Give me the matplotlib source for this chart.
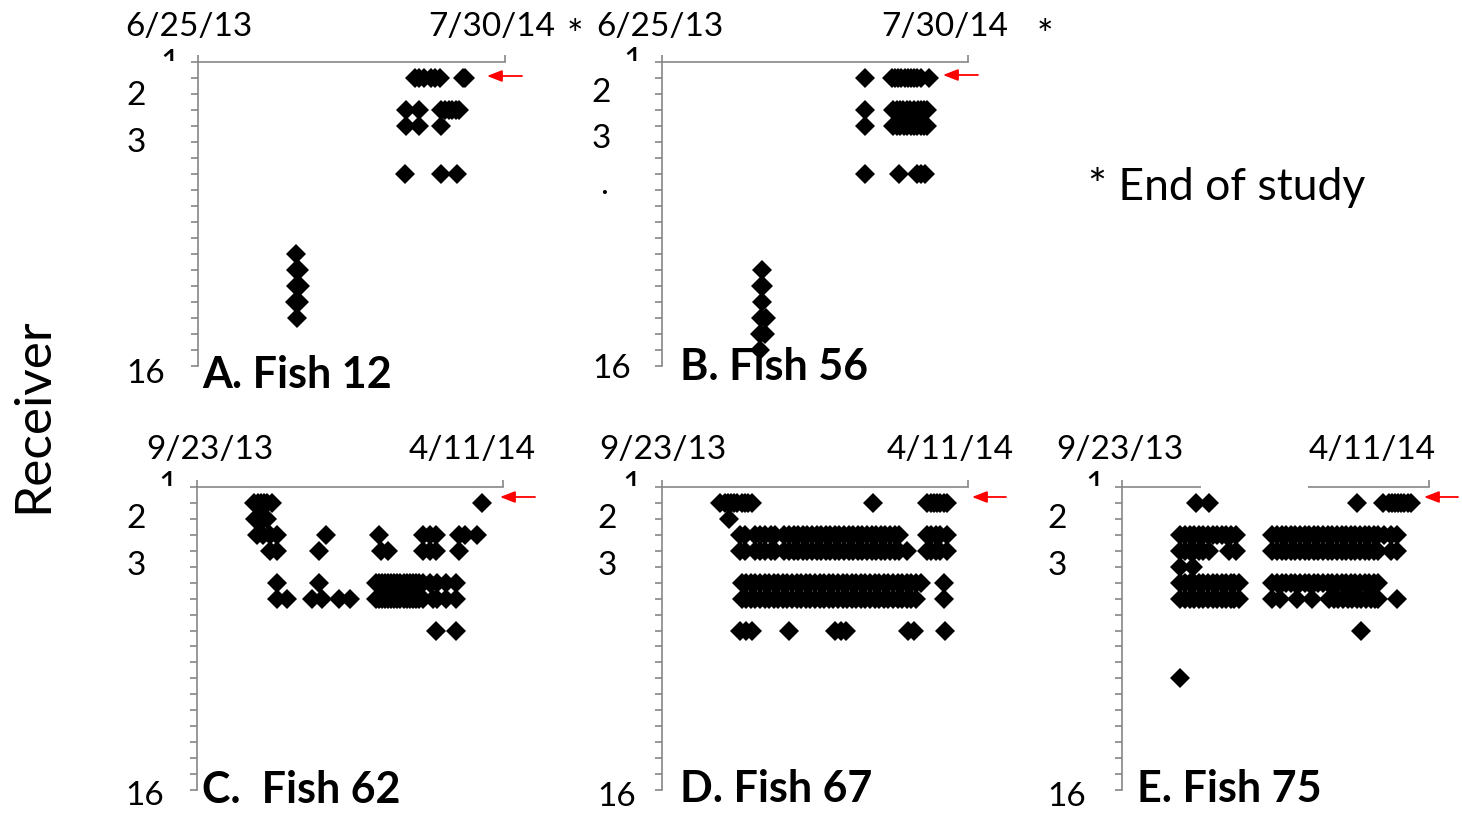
import matplotlib
matplotlib.use("Agg")
import matplotlib.pyplot as plt
from matplotlib.transforms import Bbox
from matplotlib.patches import Rectangle

W, H = 1462, 813
FONT = "Lato"
plt.rcParams['font.family'] = [FONT, 'DejaVu Sans']

# ---------------- data (days since panel start date, receiver row) ----------------
fish12_rows = [1, 3, 4, 7, 12, 13, 14, 15, 16]
fish12_days = [[283, 288, 294, 304, 309, 315, 345, 348],
               [271, 288, 317, 322, 327, 331, 336, 340],
               [271, 288, 317],
               [270, 317, 337],
               [128], [128, 132], [128, 133], [126, 132], [129]]

fish56_rows = [1, 3, 4, 7, 13, 14, 15, 16, 17, 18]
fish56_days = [[265, 301, 305, 309, 313, 317, 321, 325, 329, 333, 338, 349],
               [265, 302, 307, 311, 315, 320, 324, 329, 334, 339, 342, 346],
               [265, 302, 307, 311, 316, 320, 325, 329, 333, 339, 342, 346],
               [265, 310, 333, 338, 344],
               [131], [129, 132], [131], [129, 136], [128, 135], [128]]

fish62_rows = [1, 2, 3, 4, 6, 7, 9]
fish62_days = [[37, 40, 42, 44, 46, 49, 186],
               [38, 41, 43, 46],
               [39, 43, 48, 52, 84, 119, 148, 152, 156, 171, 175, 183],
               [48, 52, 80, 120, 125, 148, 152, 156, 171],
               [52, 80, 117, 119, 121, 123, 125, 127, 129, 131, 133, 135, 137, 139, 141,
                143, 145, 148, 152, 157, 163, 169],
               [52, 59, 75, 82, 93, 100, 117, 119, 121, 123, 125, 127, 129, 131, 133,
                135, 137, 139, 141, 143, 145, 148, 154, 157, 163, 169],
               [156, 169]]

fish67_rows = [1, 2, 3, 4, 6, 7, 9]
fish67_days = [[38, 41, 43, 45, 47, 49, 52, 54, 56, 59, 138, 173, 176, 178, 180, 182,
                184, 186],
               [44],
               [51, 54, 61, 64, 67, 71, 74, 80, 83, 86, 89, 92, 95, 98, 101, 104, 107,
                110, 113, 116, 119, 122, 125, 128, 131, 134, 137, 140, 143, 146, 149,
                152, 155, 173, 176, 179, 182, 186],
               [51, 54, 61, 64, 67, 71, 74, 80, 83, 86, 89, 92, 95, 98, 101, 104, 107,
                110, 113, 116, 119, 122, 125, 128, 131, 134, 137, 140, 143, 146, 149,
                152, 155, 160, 173, 176, 179, 182, 186],
               [52, 55, 58, 61, 64, 67, 70, 73, 76, 79, 82, 85, 88, 91, 94, 97, 100,
                103, 106, 109, 112, 115, 118, 121, 124, 127, 130, 133, 136, 139, 142,
                145, 148, 151, 154, 157, 160, 163, 166, 169, 184],
               [52, 55, 58, 61, 64, 67, 70, 73, 76, 79, 82, 85, 88, 91, 94, 97, 100,
                103, 106, 109, 112, 115, 118, 121, 124, 127, 130, 133, 136, 139, 142,
                145, 148, 151, 154, 157, 160, 163, 166, 184],
               [51, 55, 59, 83, 113, 117, 120, 161, 165, 185]]

fish75_rows = [1, 3, 4, 5, 6, 7, 9, 12]
fish75_days = [[48, 57, 153, 170, 174, 176, 178, 180, 182, 184, 186, 188],
               [38, 41, 44, 47, 50, 53, 56, 59, 62, 65, 68, 71, 74,
                98, 101, 104, 107, 110, 113, 116, 119, 122, 125, 128, 131, 134, 137,
                140, 143, 146, 149, 152, 155, 158, 161, 164, 167, 171, 175, 179],
               [38, 41, 44, 47, 50, 53, 57, 70, 74,
                98, 101, 104, 107, 110, 113, 116, 119, 122, 125, 128, 131, 134, 137,
                140, 143, 146, 149, 152, 155, 158, 161, 164, 167, 175, 179],
               [38, 46],
               [38, 41, 44, 47, 50, 53, 56, 59, 62, 65, 68, 71, 73, 76,
                98, 101, 104, 107, 110, 113, 116, 119, 122, 125, 128, 131, 134, 137,
                140, 143, 146, 149, 152, 155, 158, 161, 164, 167],
               [38, 41, 44, 47, 50, 53, 56, 59, 62, 65, 68, 71, 73, 76,
                98, 103, 114, 124, 135, 138, 141, 144, 147, 150, 153, 156, 159, 162,
                165, 167, 179],
               [156],
               [38]]

panel_titles = ["A. Fish 12", "B. Fish 56", "C.  Fish 62", "D. Fish 67", "E. Fish 75"]
start_labels = ["6/25/13", "6/25/13", "9/23/13", "9/23/13", "9/23/13"]
end_labels = ["7/30/14", "7/30/14", "4/11/14", "4/11/14", "4/11/14"]
span_days = [400, 400, 200, 200, 200]
receiver_labels = ["2", "3", "16"]
y_max = 19

panels_rows = [fish12_rows, fish56_rows, fish62_rows, fish67_rows, fish75_rows]
panels_days = [fish12_days, fish56_days, fish62_days, fish67_days, fish75_days]

# ---------------- layout (pixels) ----------------
axes_px = [(198, 62, 505, 366), (662, 62, 968, 366),
           (197, 487, 503, 790), (662, 487, 968, 790), (1122, 487, 1429, 790)]
start_lab_px = [(189, 36), (660, 36), (210, 459), (663, 459), (1120, 459)]
end_lab_px = [(492, 36), (945, 36), (472, 459), (950, 459), (1372, 459)]
title_px = [(202, 388), (680, 380), (202, 803), (680, 802), (1137, 802)]
ylab_px = [[(136, 105), (136, 152), (146, 383)],
           [(601, 102), (601, 148), (612, 378)],
           [(136, 528), (136, 575), (145, 805)],
           [(607, 528), (607, 575), (617, 806)],
           [(1057, 528), (1057, 575), (1067, 806)]]
one_px = [(170, 73), (633, 71), (168, 495), (632, 495), (1095, 495)]
arrow_px = [(487, 522, 76), (943, 978, 75), (500, 535, 497), (972, 1006, 497),
            (1424, 1458, 497)]

GRAY = "#868686"
LAB = 24


def fx(x):
    return x / W


def fy(y):
    return 1 - y / H


fig = plt.figure(figsize=(W / 100, H / 100), dpi=100)

for i in range(5):
    l, t, r, b = axes_px[i]
    ax = fig.add_axes([fx(l), fy(b), (r - l) / W, (b - t) / H])
    xs, ys = [], []
    for row, days in zip(panels_rows[i], panels_days[i]):
        xs.extend(days)
        ys.extend([row] * len(days))
    ax.plot(xs, ys, linestyle="none", marker="D", markersize=10, color="black",
            markeredgewidth=0, clip_on=False)
    ax.set_xlim(0, span_days[i])
    ax.set_ylim(y_max, 0)
    for s in ["bottom", "right"]:
        ax.spines[s].set_visible(False)
    for s in ["top", "left"]:
        ax.spines[s].set_color(GRAY)
        ax.spines[s].set_linewidth(1.2)
    ax.xaxis.tick_top()
    ax.set_xticks([0, span_days[i]])
    ax.set_xticklabels([])
    ax.set_yticks(range(0, y_max + 1))
    ax.set_yticklabels([])
    ax.tick_params(axis="both", direction="out", length=5, width=1.2, color=GRAY)
    ax.patch.set_visible(False)

    # date labels
    fig.text(fx(start_lab_px[i][0]), fy(start_lab_px[i][1]), start_labels[i],
             ha="center", va="baseline", fontsize=LAB)
    fig.text(fx(end_lab_px[i][0]), fy(end_lab_px[i][1]), end_labels[i],
             ha="center", va="baseline", fontsize=LAB)
    # receiver labels
    for lab, (x, y) in zip(receiver_labels, ylab_px[i]):
        fig.text(fx(x), fy(y), lab, ha="center", va="baseline", fontsize=LAB)
    # clipped "1"
    t1 = fig.text(fx(one_px[i][0]), fy(one_px[i][1]), "1", ha="center",
                  va="baseline", fontsize=LAB)
    topy = axes_px[i][1]
    t1.set_clip_box(Bbox.from_extents(0, H - topy + 1, W, H))
    t1.set_clip_on(True)
    # title
    fig.text(fx(title_px[i][0]), fy(title_px[i][1]), panel_titles[i], ha="left",
             va="baseline", fontsize=31, fontweight="bold")
    # red arrow
    x0, x1, ya = arrow_px[i]
    fig.add_artist(plt.Annotation("", xy=(fx(x0), fy(ya)), xytext=(fx(x1), fy(ya)),
                                  xycoords="figure fraction", textcoords="figure fraction",
                                  arrowprops=dict(arrowstyle="-|>,head_length=0.9,head_width=0.35",
                                                  color="red", lw=1.3,
                                                  shrinkA=0, shrinkB=0)))

# small dot in panel B
fig.text(fx(604), fy(194), ".", ha="center", va="baseline", fontsize=LAB)

# asterisks
fig.text(fx(575), fy(48), "*", ha="center", va="baseline", fontsize=28)
fig.text(fx(1045), fy(48), "*", ha="center", va="baseline", fontsize=28)

# gap in panel E top spine
fig.add_artist(Rectangle((fx(1201), fy(490)), (1308 - 1201) / W, 6 / H,
                         transform=fig.transFigure, facecolor="white",
                         edgecolor="none", zorder=5))

fig.text(fx(1088), fy(200), "* End of study", ha="left", va="baseline", fontsize=32)
fig.text(fx(33), fy(415), "Receiver", rotation=90, ha="center", va="center",
         fontsize=37)

fig.savefig("out.png", dpi=100)
